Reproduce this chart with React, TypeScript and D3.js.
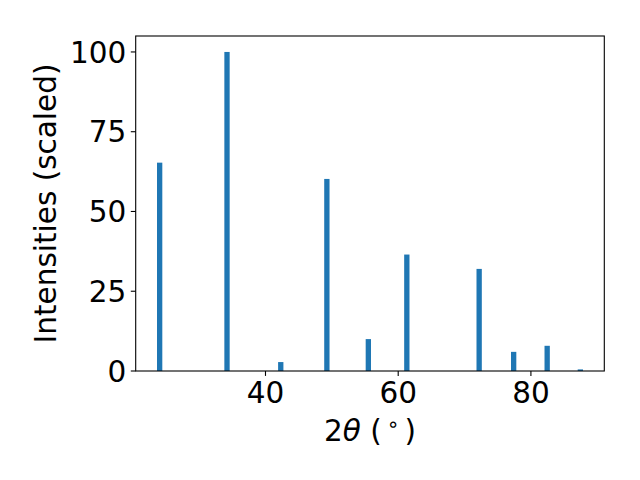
import React from "react";
import * as d3 from "d3";

const twoTheta = [24.05, 34.2, 42.3, 49.25, 55.5, 61.3, 72.2, 77.4, 82.45, 87.45];
const intensities = [65.3, 100, 2.8, 60.2, 10, 36.5, 32, 6, 7.9, 0.5];
const xTicks = [40, 60, 80];
const yTicks = [0, 25, 50, 75, 100];

const W = 640, H = 480;
const L = 135.7, R = 604.3, T = 36, B = 371;
const barWidth = 0.8;
const font = "DejaVu Sans, sans-serif";
const fs = 29.5;

export default function App() {
  const lo = d3.min(twoTheta)! - barWidth / 2;
  const hi = d3.max(twoTheta)! + barWidth / 2;
  const pad = (hi - lo) * 0.05;
  const x = d3.scaleLinear().domain([lo - pad, hi + pad]).range([L, R]);
  const y = d3.scaleLinear().domain([0, d3.max(intensities)! * 1.05]).range([B, T]);

  return (
    <svg width={W} height={H} style={{ position: "fixed", left: 0, top: 0, background: "#fff" }} fontFamily={font}>
      <rect x={0} y={0} width={W} height={H} fill="#fff" />
      {twoTheta.map((t, i) => (
        <rect
          key={i}
          x={x(t - barWidth / 2)}
          width={x(t + barWidth / 2) - x(t - barWidth / 2)}
          y={y(intensities[i])}
          height={y(0) - y(intensities[i])}
          fill="#1f77b4"
        />
      ))}
      <rect x={L} y={T} width={R - L} height={B - T} fill="none" stroke="#000" strokeWidth={1.1} />
      {xTicks.map((v) => (
        <g key={v}>
          <line x1={x(v)} x2={x(v)} y1={B} y2={B + 4.9} stroke="#000" strokeWidth={1.1} />
          <text x={x(v)} y={403} fontSize={fs} textAnchor="middle" fill="#000">{v}</text>
        </g>
      ))}
      {yTicks.map((v) => (
        <g key={v}>
          <line x1={L} x2={L - 4.9} y1={y(v)} y2={y(v)} stroke="#000" strokeWidth={1.1} />
          <text x={L - 9.5} y={y(v)} dy="0.36em" fontSize={fs} textAnchor="end" fill="#000">{v}</text>
        </g>
      ))}
      <text x={(L + R) / 2} y={441} fontSize={fs} textAnchor="middle" fill="#000">
        <tspan>2</tspan>
        <tspan fontStyle="italic">θ</tspan>
        <tspan> (</tspan>
        <tspan fontSize={20.5} dx={5} dy={-10}>∘</tspan>
        <tspan dx={5} dy={10}>)</tspan>
      </text>
      <text
        transform={`translate(56,${(T + B) / 2}) rotate(-90)`}
        fontSize={fs}
        textAnchor="middle"
        fill="#000"
      >
        Intensities (scaled)
      </text>
    </svg>
  );
}
